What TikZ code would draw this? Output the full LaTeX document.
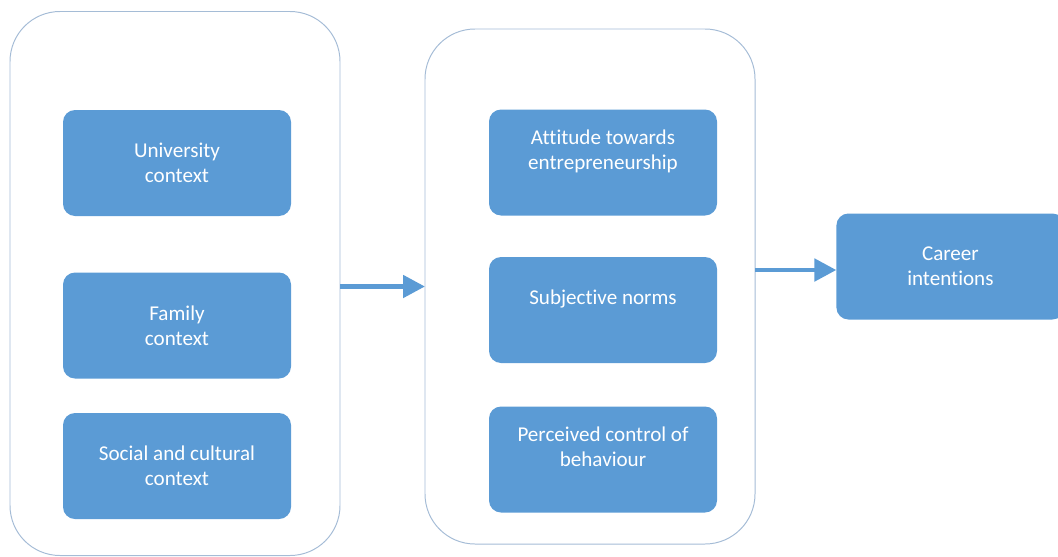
\documentclass[tikz,border=0pt]{standalone}
\usepackage{fontspec}
\setmainfont[Ligatures=CommonOff]{Carlito}
\usepackage{tkz-graph}
\usetikzlibrary{arrows.meta}
\definecolor{boxblue}{RGB}{91,155,213}
\definecolor{frameblue}{RGB}{165,188,214}

\begin{document}
\begin{tikzpicture}[font=\fontsize{15}{17.8}\selectfont]
	\useasboundingbox (0,0) rectangle (26.45,13.9);
	\GraphInit[vstyle=Normal]
	% the two frames
	\tikzset{VertexStyle/.style={draw=frameblue, line width=0.7pt, fill=none,
		rectangle, rounded corners=1.25cm, minimum width=8.25cm}}
	\Vertex[x=4.375,y=6.8125,NoLabel,style={minimum height=13.6cm}]{LB}
	\Vertex[x=14.75,y=6.7375,NoLabel,style={minimum height=12.875cm}]{MB}
	% the blue boxes
	\tikzset{VertexStyle/.style={fill=boxblue, draw=none, text=white, rectangle,
		rounded corners=0.3cm, minimum width=5.7cm, minimum height=2.65cm, align=center}}
	\Vertex[x=4.425,y=9.825,L={University\\context}]{UC}
	\Vertex[x=4.425,y=5.7625,L={Family\\context}]{FC}
	\Vertex[x=4.425,y=2.25,L={Social and cultural\\context}]{SC}
	\Vertex[x=15.075,y=9.8375,L={Attitude towards\\entrepreneurship\\\mbox{}}]{AE}
	\Vertex[x=15.075,y=6.15,L={Subjective norms\\\mbox{}}]{SN}
	\Vertex[x=15.075,y=2.4125,L={Perceived control of\\behaviour\\\mbox{}}]{PC}
	\Vertex[x=23.76,y=7.2375,L={Career\\intentions},style={minimum width=5.4cm}]{CI}
	\tikzset{EdgeStyle/.style={boxblue, line width=3.5pt,
		-{Triangle[length=5.5mm, width=5.5mm]}}}
	\draw[EdgeStyle] (LB.east |- MB) -- (MB);
	\draw[EdgeStyle] ([yshift=-2.5pt]MB.east |- CI) -- ([yshift=-2.5pt]CI.west);
\end{tikzpicture}
\end{document}
